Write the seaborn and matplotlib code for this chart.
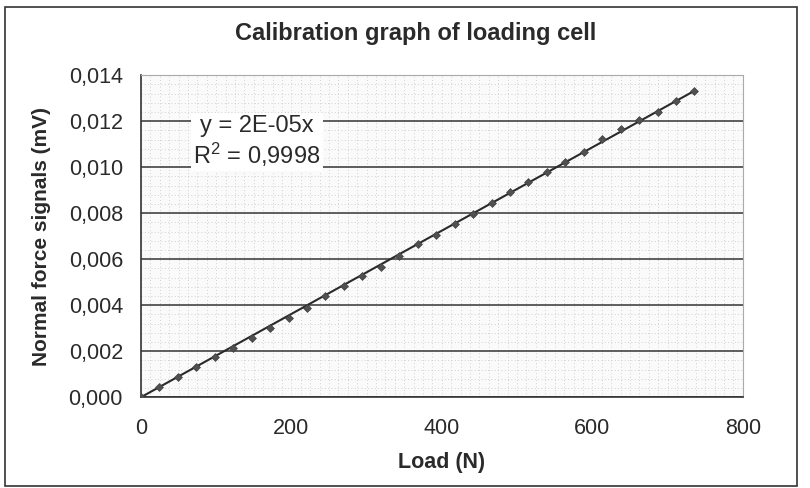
import numpy as np
import pandas as pd
import matplotlib.pyplot as plt
import matplotlib.patches as patches
from matplotlib.ticker import MultipleLocator, FuncFormatter
import seaborn as sns

# Calibration readings (load in N, signal in mV)
load = [0.0, 24.5, 49.1, 73.6, 98.1, 122.6, 147.2, 171.7, 196.2, 220.7,
        245.3, 269.8, 294.3, 318.8, 343.4, 367.9, 392.4, 416.9, 441.5, 466.0,
        490.5, 515.0, 539.6, 564.1, 588.6, 613.1, 637.7, 662.2, 686.7, 711.2,
        735.8]
signal = [0.0, 0.00044, 0.00087, 0.00131, 0.00174, 0.00215, 0.00257, 0.00299,
          0.00344, 0.00389, 0.00439, 0.00482, 0.00526, 0.00568, 0.00616,
          0.00664, 0.00707, 0.00751, 0.00796, 0.00845, 0.00893, 0.00937,
          0.00977, 0.01021, 0.01067, 0.01121, 0.01165, 0.01205, 0.01242,
          0.01288, 0.01333]
x_ticks = [0, 200, 400, 600, 800]
y_ticks = [0.000, 0.002, 0.004, 0.006, 0.008, 0.010, 0.012, 0.014]

df = pd.DataFrame({"load": load, "signal": signal})

# Linear trendline forced through the origin
x = np.array(load)
y = np.array(signal)
slope = (x * y).sum() / (x * x).sum()
trend = pd.DataFrame({"load": [0, x.max()], "signal": [0, slope * x.max()]})

sns.set_theme(style="white")
plt.rcParams['font.family'] = ['Liberation Sans', 'DejaVu Sans']

fig = plt.figure(figsize=(8.1, 4.88), dpi=100)
ax = fig.add_axes([0.174, 0.186, 0.743, 0.660])
ax.set_facecolor('#fafafa')

# Dotted background pattern
ax.xaxis.set_minor_locator(MultipleLocator(12.5))
ax.yaxis.set_minor_locator(MultipleLocator(0.0004))
ax.grid(which='minor', color='#c4c4c4', linestyle=(0, (1, 3)), linewidth=0.6)
ax.grid(which='major', axis='y', color='#333333', linestyle='-', linewidth=1.1)
ax.grid(which='major', axis='x', color='#c4c4c4', linestyle=(0, (1, 3)), linewidth=0.6)
ax.set_axisbelow(True)

sns.lineplot(data=trend, x="load", y="signal", color='#2a2a2a', linewidth=1.5, ax=ax)
sns.scatterplot(data=df, x="load", y="signal", marker='D', s=16, color='#505050',
                edgecolor='#404040', linewidth=0.5, ax=ax, zorder=3)

ax.set_xlim(0, 800)
ax.set_ylim(0, 0.014)
ax.set_xticks(x_ticks)
ax.set_yticks(y_ticks)
ax.yaxis.set_major_formatter(FuncFormatter(lambda v, p: f"{v:.3f}".replace('.', ',')))
ax.tick_params(axis='both', which='major', direction='out', length=5, width=1,
               color='#333333', labelsize=15.5, labelcolor='#2a2a2a', pad=8)
ax.tick_params(which='minor', length=0)
ax.tick_params(axis='x', pad=10)

for side in ['left', 'bottom']:
    ax.spines[side].set_color('#333333')
    ax.spines[side].set_linewidth(1.2)
for side in ['top', 'right']:
    ax.spines[side].set_color('#aaaaaa')
    ax.spines[side].set_linewidth(0.8)

ax.set_xlabel('Load (N)', fontsize=15.5, fontweight='bold', color='#2a2a2a')
ax.set_ylabel('Normal force signals (mV)', fontsize=15, fontweight='bold', color='#2a2a2a')
ax.xaxis.set_label_coords(0.5, -0.17)
ax.yaxis.set_label_coords(-0.15, 0.5)

ax.text(154, 0.0111, f"y = {slope:.0E}x\n$\\mathregular{{R^2}}$ = 0,9998",
        fontsize=17, color='#2a2a2a', ha='center', va='center', linespacing=1.15,
        bbox=dict(facecolor='white', edgecolor='none', pad=1.5))

fig.text(0.513, 0.932, 'Calibration graph of loading cell', fontsize=17,
         fontweight='bold', color='#2a2a2a', ha='center', va='center')

# Chart border
fig.patches.append(patches.Rectangle((0.006, 0.004), 0.978, 0.982, transform=fig.transFigure,
                                     fill=False, edgecolor='#333333', linewidth=1.2))

fig.savefig('out.png', dpi=100)
